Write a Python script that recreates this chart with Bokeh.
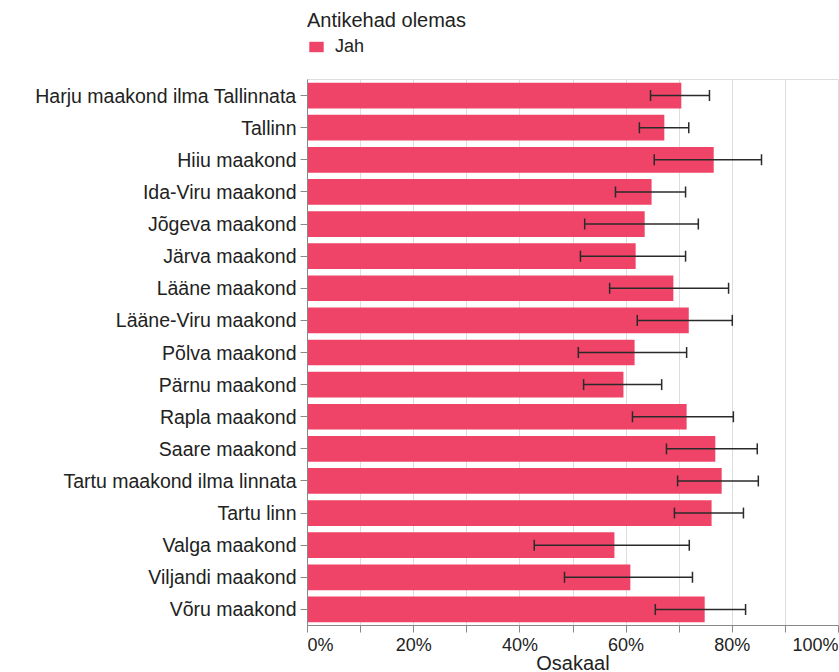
from bokeh.plotting import figure
from bokeh.layouts import column
from bokeh.models import (ColumnDataSource, FactorRange, Range1d, FixedTicker,
                          Whisker, TeeHead, Legend, LegendItem)
from bokeh.core.properties import value
from bokeh.embed import file_html
from bokeh.resources import INLINE

categories = ["Harju maakond ilma Tallinnata", "Tallinn", "Hiiu maakond",
              "Ida-Viru maakond", "Jõgeva maakond", "Järva maakond",
              "Lääne maakond", "Lääne-Viru maakond", "Põlva maakond",
              "Pärnu maakond", "Rapla maakond", "Saare maakond",
              "Tartu maakond ilma linnata", "Tartu linn", "Valga maakond",
              "Viljandi maakond", "Võru maakond"]
share = [0.704, 0.672, 0.765, 0.648, 0.635, 0.618, 0.689, 0.718, 0.616,
         0.595, 0.714, 0.768, 0.780, 0.761, 0.578, 0.608, 0.748]
lower = [0.646, 0.625, 0.653, 0.580, 0.522, 0.514, 0.569, 0.621, 0.510,
         0.520, 0.612, 0.676, 0.697, 0.691, 0.427, 0.484, 0.655]
upper = [0.757, 0.718, 0.855, 0.712, 0.736, 0.712, 0.793, 0.800, 0.714,
         0.667, 0.802, 0.847, 0.849, 0.821, 0.719, 0.725, 0.825]
series_name = "Jah"
legend_title = "Antikehad olemas"
x_title = "Osakaal"
grid_values = [0, 0.1, 0.2, 0.3, 0.4, 0.5, 0.6, 0.7, 0.8, 0.9, 1.0]
tick_values = [0, 0.2, 0.4, 0.6, 0.8, 1.0]
tick_labels = ["0%", "20%", "40%", "60%", "80%", "100%"]

FONT = "Liberation Sans"
TXT = "#222222"
BAR = "#ef4467"
ERR = "#2a2a2a"
W = 839
LEFT = 307

src = ColumnDataSource(dict(cat=categories, val=share, lo=lower, hi=upper))
xr = Range1d(0, 1)


def bare(fig):
    fig.outline_line_color = None
    fig.xaxis.visible = False
    fig.yaxis.visible = False
    fig.grid.visible = False
    fig.background_fill_color = "white"
    fig.border_fill_color = "white"


# ---- legend strip ----
pl = figure(width=W, height=79, output_backend="svg", toolbar_location=None,
            x_range=Range1d(0, 1), y_range=FactorRange(factors=categories),
            min_border_left=LEFT, min_border_right=1, min_border_top=9,
            min_border_bottom=0)
bare(pl)
leg_r = pl.hbar(y="cat", left=0, right="val", height=0.8, source=src,
                fill_color=BAR, line_color=None, visible=False)
legend = Legend(items=[LegendItem(label=series_name, renderers=[leg_r])],
                title=legend_title, location="top_left",
                orientation="vertical",
                title_text_font=FONT, title_text_font_size="20px",
                title_text_font_style="normal", title_text_color=TXT,
                title_standoff=4,
                label_text_font=FONT, label_text_font_size="18px",
                label_text_color=TXT, glyph_width=18, glyph_height=13,
                label_standoff=10, padding=0, margin=0, spacing=0,
                inactive_fill_alpha=0,
                border_line_color=None, background_fill_alpha=0)
pl.add_layout(legend, "center")

# ---- main chart ----
p = figure(width=W, height=555, output_backend="svg", toolbar_location=None,
           y_range=FactorRange(factors=list(reversed(categories))),
           x_range=xr,
           min_border_left=LEFT, min_border_right=1, min_border_top=0,
           min_border_bottom=9)
p.outline_line_color = "#dddddd"
p.background_fill_color = "white"
p.border_fill_color = "white"

bars = p.hbar(y="cat", left=0, right="val", height=0.8, source=src,
              fill_color=BAR, line_color=None)

wh = Whisker(source=src, base="cat", lower="lo", upper="hi", dimension="width",
             line_color=ERR, line_width=1.5, level="overlay",
             lower_head=TeeHead(size=11, line_color=ERR, line_width=1.5),
             upper_head=TeeHead(size=11, line_color=ERR, line_width=1.5))
p.add_layout(wh)

p.xaxis.ticker = FixedTicker(ticks=grid_values)
p.xaxis.major_label_overrides = {v: "" for v in grid_values}
p.xaxis.major_label_text_font_size = "1px"
p.xaxis.major_label_standoff = 0
p.xaxis.minor_tick_line_color = None
p.xaxis.major_tick_in = 0
p.xaxis.major_tick_out = 7
p.xaxis.major_tick_line_color = "#888888"
p.xaxis.axis_line_color = "#888888"
p.xgrid.ticker = FixedTicker(ticks=grid_values)
p.xgrid.grid_line_color = "#dddddd"
p.ygrid.grid_line_color = None

p.yaxis.major_label_text_font = FONT
p.yaxis.major_label_text_font_size = "19.5px"
p.yaxis.major_label_text_color = TXT
p.yaxis.major_tick_in = 0
p.yaxis.major_tick_out = 7
p.yaxis.major_tick_line_color = "#888888"
p.yaxis.axis_line_color = "#888888"
p.yaxis.major_label_standoff = 4

# ---- x tick labels and axis title strip ----
pb = figure(width=W, height=38, output_backend="svg", toolbar_location=None,
            x_range=xr, y_range=Range1d(0, 38),
            min_border_left=LEFT, min_border_right=1, min_border_top=0,
            min_border_bottom=0)
bare(pb)
n = len(tick_values)
aligns = ["left" if i == 0 else ("right" if i == n - 1 else "center")
          for i in range(n)]
tick_src = ColumnDataSource(dict(x=tick_values, text=tick_labels,
                                 align=aligns, y=[38] * n))
pb.text(x="x", y="y", text="text", text_align="align", text_baseline="top",
        text_font=value(FONT), text_font_size="18px", text_color=TXT,
        source=tick_src)
title_src = ColumnDataSource(dict(x=[0.5], y=[10], text=[x_title]))
pb.text(x="x", y="y", text="text", text_align="center",
        text_baseline="middle", text_font=value(FONT),
        text_font_size="20px", text_color=TXT, source=title_src)

layout = column(pl, p, pb, spacing=0)
open("out.html", "w").write(file_html(layout, INLINE))
